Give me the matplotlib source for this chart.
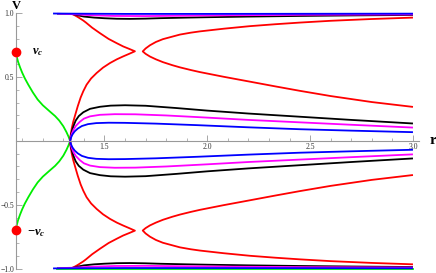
import numpy as np
import matplotlib.pyplot as plt
from matplotlib.ticker import FixedLocator, FuncFormatter

plt.rcParams['mathtext.fontset'] = 'custom'
plt.rcParams['mathtext.it'] = 'Liberation Serif:italic:bold'
plt.rcParams['mathtext.rm'] = 'Liberation Serif:bold'

# sonic point and critical velocity
r_s = 1.333
r_in = 1.07
v_c = 0.699

# green critical branch (upper half, mirrored for v < 0)
green_r = [1.070, 1.073, 1.080, 1.090, 1.100, 1.113, 1.130, 1.152, 1.175, 1.200,
           1.235, 1.260, 1.280, 1.300, 1.315, 1.325, 1.333]
green_v = [0.699, 0.662, 0.620, 0.575, 0.535, 0.490, 0.440, 0.380, 0.325, 0.280,
           0.230, 0.195, 0.160, 0.115, 0.070, 0.035, 0.0]

# red curve through the sonic point (upper half)
redA_r = [1.333, 1.336, 1.341, 1.348, 1.357, 1.370, 1.384, 1.397, 1.413, 1.435,
          1.462, 1.493, 1.527, 1.560, 1.591, 1.620, 1.648,
          1.620, 1.591, 1.559, 1.520, 1.478, 1.440, 1.410, 1.397, 1.370, 1.350, 1.341]
redA_v = [0.0, 0.05, 0.10, 0.15, 0.20, 0.272, 0.34, 0.39, 0.441, 0.49,
          0.533, 0.575, 0.611, 0.640, 0.663, 0.683, 0.703,
          0.722, 0.741, 0.767, 0.800, 0.845, 0.888, 0.928, 0.944, 0.972, 0.990, 0.996]

# red curve on the right (upper half)
redB_r = [3.0, 2.8, 2.6, 2.45, 2.33, 2.207, 2.08, 1.964, 1.92, 1.867, 1.83, 1.784,
          1.75, 1.721, 1.70, 1.686,
          1.70, 1.721, 1.75, 1.784, 1.83, 1.867, 1.92, 1.964, 2.08, 2.207, 2.33,
          2.45, 2.6, 2.8, 3.0]
redB_v = [0.967, 0.956, 0.942, 0.928, 0.915, 0.900, 0.880, 0.859, 0.849, 0.834,
          0.818, 0.798, 0.776, 0.750, 0.725, 0.702,
          0.683, 0.662, 0.640, 0.618, 0.594, 0.577, 0.556, 0.540, 0.503, 0.465,
          0.428, 0.393, 0.352, 0.305, 0.267]

# accretion branches from the sonic point (upper half)
black_r = [1.333, 1.336, 1.342, 1.350, 1.360, 1.375, 1.397, 1.430, 1.478, 1.530,
           1.600, 1.700, 1.850, 2.000, 2.200, 2.450, 2.700, 3.0]
black_v = [0.0, 0.04, 0.08, 0.12, 0.16, 0.195, 0.225, 0.252, 0.268, 0.277,
           0.280, 0.276, 0.258, 0.238, 0.215, 0.190, 0.165, 0.137]
mag_r = [1.333, 1.336, 1.342, 1.350, 1.362, 1.380, 1.400, 1.430, 1.478, 1.550,
         1.650, 1.800, 2.000, 2.200, 2.450, 2.700, 3.0]
mag_v = [0.0, 0.03, 0.06, 0.09, 0.12, 0.15, 0.175, 0.193, 0.205, 0.210,
         0.209, 0.200, 0.183, 0.165, 0.146, 0.127, 0.105]
blue_r = [1.333, 1.337, 1.344, 1.355, 1.370, 1.390, 1.420, 1.460, 1.520, 1.600,
          1.750, 1.950, 2.200, 2.450, 2.700, 3.0]
blue_v = [0.0, 0.025, 0.05, 0.075, 0.097, 0.117, 0.132, 0.140, 0.143, 0.142,
          0.136, 0.124, 0.107, 0.092, 0.081, 0.069]

# branches close to v = 1
topk_r = [1.341, 1.37, 1.40, 1.45, 1.50, 1.56, 1.624, 1.70, 1.77, 1.90, 2.0, 2.2, 2.45, 2.7, 3.0]
topk_v = [0.996, 0.985, 0.975, 0.967, 0.962, 0.958, 0.957, 0.959, 0.9625, 0.967, 0.970,
          0.975, 0.980, 0.984, 0.988]
topm_r = [1.27, 1.341, 1.40, 1.45, 1.55, 1.70, 2.0, 2.45, 3.0]
topm_v = [0.997, 0.994, 0.989, 0.985, 0.980, 0.979, 0.984, 0.989, 0.992]
topb_r = [1.25, 1.341, 1.6, 2.0, 2.5, 3.0]
topb_v = [0.999, 0.998, 0.996, 0.996, 0.997, 0.998]
topg_r = [1.27, 1.342]
topg_v = [0.993, 0.993]
botg_r = [1.27, 3.0]
botg_v = [-1.005, -1.005]

fig = plt.figure(figsize=(4.36, 2.73), dpi=100)
ax = fig.add_axes([0, 0, 1, 1])
ax.set_xlim(0.992, 3.112)
ax.set_ylim(-1.035, 1.105)

lw = 1.3
def both(r, v, c):
    ax.plot(r, v, color=c, lw=lw, solid_capstyle='butt')
    ax.plot(r, -np.array(v), color=c, lw=lw, solid_capstyle='butt')

both(green_r, green_v, '#00ee00')
both(topg_r, topg_v, '#00ee00')
ax.plot(botg_r, botg_v, color='#00ee00', lw=lw)
both(redA_r, redA_v, '#ff0000')
both(redB_r, redB_v, '#ff0000')
both(black_r, black_v, 'black')
both(topk_r, topk_v, 'black')
both(mag_r, mag_v, '#ff00ff')
both(topm_r, topm_v, '#ff00ff')
both(blue_r, blue_v, '#0000ff')
both(topb_r, topb_v, '#0000ff')

ax.plot([r_in, r_in], [v_c, -v_c], 'o', color='#ff0000', ms=6, zorder=5)
ax.text(1.150, v_c, r'$v_c$', fontsize=9, va='center', ha='left')
ax.text(1.125, -v_c - 0.02, r'$-v_c$', fontsize=9, va='center', ha='left')

# Mathematica-like axes
for s in ['top', 'right']:
    ax.spines[s].set_visible(False)
ax.spines['left'].set_position(('data', r_in))
ax.spines['bottom'].set_position(('data', 0))
ax.spines['left'].set_bounds(-1.0, 1.0)
ax.spines['bottom'].set_bounds(r_in, 3.03)
for s in ['left', 'bottom']:
    ax.spines[s].set_color('#999999')
    ax.spines[s].set_linewidth(0.8)

ax.xaxis.set_major_locator(FixedLocator([1.5, 2.0, 2.5, 3.0]))
ax.xaxis.set_minor_locator(FixedLocator([1.1, 1.2, 1.3, 1.4, 1.6, 1.7, 1.8, 1.9, 2.1, 2.2,
                                         2.3, 2.4, 2.6, 2.7, 2.8, 2.9]))
ax.yaxis.set_major_locator(FixedLocator([-1.0, -0.5, 0.5, 1.0]))
ax.yaxis.set_minor_locator(FixedLocator([-0.9, -0.8, -0.7, -0.6, -0.4, -0.3, -0.2, -0.1,
                                         0.1, 0.2, 0.3, 0.4, 0.6, 0.7, 0.8, 0.9]))
fmt = FuncFormatter(lambda x, p: ('%.1f' % x).replace('-', '\u2212'))
ax.xaxis.set_major_formatter(fmt)
ax.yaxis.set_major_formatter(fmt)
ax.tick_params(which='major', direction='in', length=4, width=0.6, color='#999999',
               labelsize=5.5, labelcolor='#333333', pad=1.5)
ax.tick_params(which='minor', direction='in', length=2, width=0.5, color='#999999')
for lab in ax.get_xticklabels() + ax.get_yticklabels():
    lab.set_family('Liberation Serif')

ax.text(1.072, 1.031, 'V', fontsize=9, fontweight='bold', family='Liberation Serif',
        ha='center', va='baseline')
ax.text(3.095, 0.0, 'r', fontsize=11, fontweight='bold', family='Liberation Serif',
        ha='center', va='center')

fig.savefig('out.png', dpi=100)
